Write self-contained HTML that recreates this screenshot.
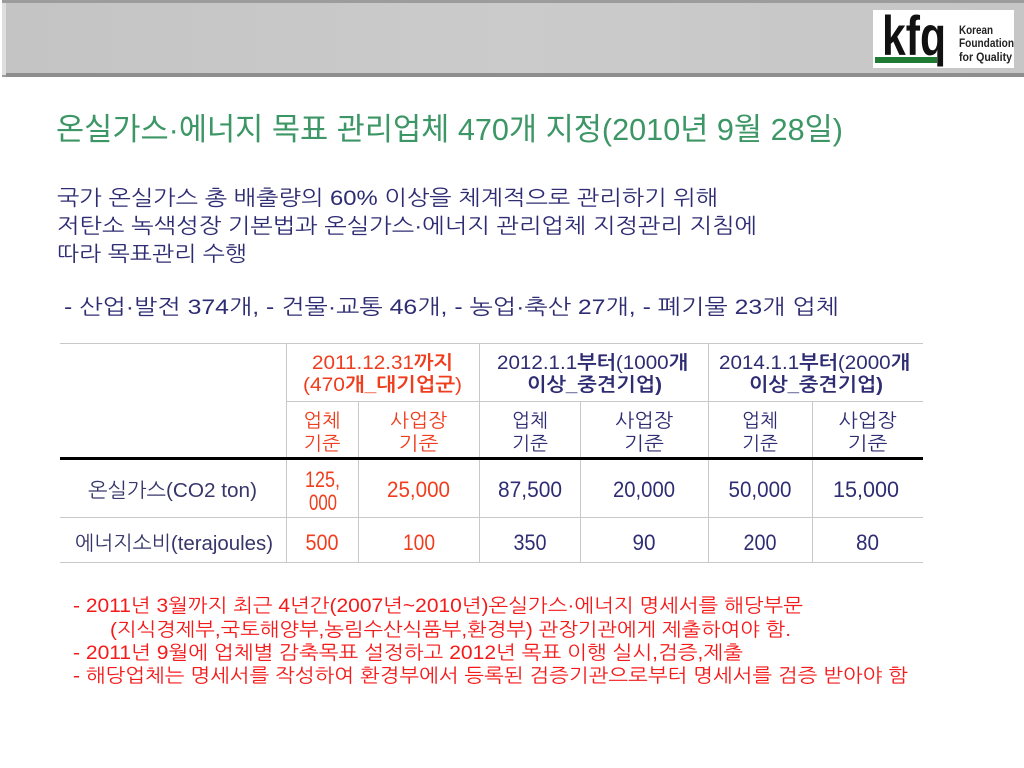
<!DOCTYPE html>
<html>
<head>
<meta charset="utf-8">
<style>
  html,body{margin:0;padding:0;background:#fff;}
  body{width:1024px;height:768px;overflow:hidden;position:relative;}
  svg{position:absolute;left:0;top:0;}
  .b{font-family:"Liberation Sans","NanumGothic","Noto Sans CJK KR",sans-serif;}
</style>
</head>
<body>
<svg width="1024" height="768" viewBox="0 0 1024 768" xmlns="http://www.w3.org/2000/svg">
  <defs>
    <linearGradient id="bar" x1="0" y1="0" x2="1" y2="0">
      <stop offset="0" stop-color="#c4c4c4"/>
      <stop offset="0.5" stop-color="#cbcbcb"/>
      <stop offset="1" stop-color="#c6c6c6"/>
    </linearGradient>
  </defs>
  <!-- header bar -->
  <rect x="2" y="0" width="1022" height="77" fill="#9c9c9c"/>
  <rect x="2" y="3" width="4" height="72" fill="#dedede"/>
  <rect x="6" y="3" width="1018" height="70" fill="url(#bar)"/>
  <rect x="6" y="73" width="1018" height="4" fill="#8e8e8e"/>

  <!-- logo -->
  <rect x="873" y="10" width="141" height="58" fill="#ffffff"/>
  <text x="882" y="55" font-family="Liberation Sans, sans-serif" font-weight="bold" font-size="56" fill="#111" textLength="64" lengthAdjust="spacingAndGlyphs">kfq</text>
  <rect x="875" y="57" width="62" height="6" fill="#1f7a34"/>
  <text x="959" y="34" font-family="Liberation Sans, sans-serif" font-weight="bold" font-size="12" fill="#222" textLength="34" lengthAdjust="spacingAndGlyphs">Korean</text>
  <text x="959" y="47" font-family="Liberation Sans, sans-serif" font-weight="bold" font-size="12" fill="#222" textLength="55" lengthAdjust="spacingAndGlyphs">Foundation</text>
  <text x="959" y="61" font-family="Liberation Sans, sans-serif" font-weight="bold" font-size="12" fill="#222" textLength="53" lengthAdjust="spacingAndGlyphs">for Quality</text>

  <!-- title -->
  <text x="56" y="140" font-family="Liberation Sans, Noto Sans CJK KR, sans-serif" font-size="31" fill="#3c9665" textLength="787" lengthAdjust="spacingAndGlyphs">온실가스·에너지 목표 관리업체 470개 지정(2010년 9월 28일)</text>

  <!-- body text -->
  <g class="b" font-size="21" fill="#2e2c72">
    <text x="57" y="205" textLength="661" lengthAdjust="spacingAndGlyphs">국가 온실가스 총 배출량의 60% 이상을 체계적으로 관리하기 위해</text>
    <text x="57" y="233" textLength="700" lengthAdjust="spacingAndGlyphs">저탄소 녹색성장 기본법과 온실가스·에너지 관리업체 지정관리 지침에</text>
    <text x="57" y="261" textLength="190" lengthAdjust="spacingAndGlyphs">따라 목표관리 수행</text>
    <text x="64" y="314" textLength="775" lengthAdjust="spacingAndGlyphs">- 산업·발전 374개, - 건물·교통 46개, - 농업·축산 27개, - 폐기물 23개 업체</text>
  </g>

  <!-- table lines -->
  <g stroke="#c8c8c8" stroke-width="1">
    <line x1="60" y1="343.5" x2="923" y2="343.5"/>
    <line x1="286" y1="401.5" x2="923" y2="401.5"/>
    <line x1="60" y1="517.5" x2="923" y2="517.5"/>
    <line x1="60" y1="562.5" x2="923" y2="562.5"/>
    <line x1="286.5" y1="343" x2="286.5" y2="562"/>
    <line x1="479.5" y1="343" x2="479.5" y2="562"/>
    <line x1="708.5" y1="343" x2="708.5" y2="562"/>
    <line x1="358.5" y1="401" x2="358.5" y2="562"/>
    <line x1="580.5" y1="401" x2="580.5" y2="562"/>
    <line x1="812.5" y1="401" x2="812.5" y2="562"/>
  </g>
  <rect x="60" y="457" width="863" height="3" fill="#000"/>

  <!-- table header row 1 -->
  <g class="b" font-size="19" text-anchor="middle">
    <text x="382.5" y="369" fill="#ef3d1d" textLength="141" lengthAdjust="spacingAndGlyphs">2011.12.31<tspan font-weight="bold">까지</tspan></text>
    <text x="382.5" y="391" fill="#ef3d1d" textLength="159" lengthAdjust="spacingAndGlyphs">(470<tspan font-weight="bold">개_대기업군</tspan>)</text>
    <text x="592.5" y="369" fill="#2e2c72" textLength="191" lengthAdjust="spacingAndGlyphs">2012.1.1<tspan font-weight="bold">부터</tspan>(1000<tspan font-weight="bold">개</tspan></text>
    <text x="594.5" y="391" fill="#2e2c72" font-weight="bold" textLength="135" lengthAdjust="spacingAndGlyphs">이상_중견기업)</text>
    <text x="814.5" y="369" fill="#2e2c72" textLength="191" lengthAdjust="spacingAndGlyphs">2014.1.1<tspan font-weight="bold">부터</tspan>(2000<tspan font-weight="bold">개</tspan></text>
    <text x="816" y="391" fill="#2e2c72" font-weight="bold" textLength="134" lengthAdjust="spacingAndGlyphs">이상_중견기업)</text>
  </g>

  <!-- table header row 2 -->
  <g class="b" font-size="19" text-anchor="middle">
    <text x="322" y="427" fill="#ef3d1d" textLength="37" lengthAdjust="spacingAndGlyphs">업체</text>
    <text x="322" y="450" fill="#ef3d1d" textLength="37" lengthAdjust="spacingAndGlyphs">기준</text>
    <text x="418.5" y="427" fill="#ef3d1d" textLength="57" lengthAdjust="spacingAndGlyphs">사업장</text>
    <text x="418.5" y="450" fill="#ef3d1d" textLength="40" lengthAdjust="spacingAndGlyphs">기준</text>
    <text x="530" y="427" fill="#2e2c72" textLength="36" lengthAdjust="spacingAndGlyphs">업체</text>
    <text x="530" y="450" fill="#2e2c72" textLength="36" lengthAdjust="spacingAndGlyphs">기준</text>
    <text x="644" y="427" fill="#2e2c72" textLength="58" lengthAdjust="spacingAndGlyphs">사업장</text>
    <text x="644" y="450" fill="#2e2c72" textLength="40" lengthAdjust="spacingAndGlyphs">기준</text>
    <text x="760" y="427" fill="#2e2c72" textLength="36" lengthAdjust="spacingAndGlyphs">업체</text>
    <text x="760" y="450" fill="#2e2c72" textLength="36" lengthAdjust="spacingAndGlyphs">기준</text>
    <text x="867.5" y="427" fill="#2e2c72" textLength="58" lengthAdjust="spacingAndGlyphs">사업장</text>
    <text x="867.5" y="450" fill="#2e2c72" textLength="40" lengthAdjust="spacingAndGlyphs">기준</text>
  </g>

  <!-- data rows -->
  <g class="b" text-anchor="middle">
    <text x="172.5" y="497" font-size="20" fill="#36366a" textLength="169" lengthAdjust="spacingAndGlyphs">온실가스(CO2 ton)</text>
    <text x="174" y="550" font-size="20" fill="#36366a" textLength="198" lengthAdjust="spacingAndGlyphs">에너지소비(terajoules)</text>

    <g font-size="22">
      <text x="322.5" y="487" fill="#ef3d1d" textLength="35" lengthAdjust="spacingAndGlyphs">125,</text>
      <text x="323" y="510" fill="#ef3d1d" textLength="28" lengthAdjust="spacingAndGlyphs">000</text>
      <text x="418.5" y="497" fill="#ef3d1d" textLength="63" lengthAdjust="spacingAndGlyphs">25,000</text>
      <text x="530" y="497" fill="#2e2c72" textLength="64" lengthAdjust="spacingAndGlyphs">87,500</text>
      <text x="644" y="497" fill="#2e2c72" textLength="62" lengthAdjust="spacingAndGlyphs">20,000</text>
      <text x="760" y="497" fill="#2e2c72" textLength="63" lengthAdjust="spacingAndGlyphs">50,000</text>
      <text x="866" y="497" fill="#2e2c72" textLength="66" lengthAdjust="spacingAndGlyphs">15,000</text>

      <text x="322" y="550" fill="#ef3d1d" textLength="33" lengthAdjust="spacingAndGlyphs">500</text>
      <text x="419" y="550" fill="#ef3d1d" textLength="32" lengthAdjust="spacingAndGlyphs">100</text>
      <text x="530" y="550" fill="#2e2c72" textLength="33" lengthAdjust="spacingAndGlyphs">350</text>
      <text x="644" y="550" fill="#2e2c72" textLength="23" lengthAdjust="spacingAndGlyphs">90</text>
      <text x="760" y="550" fill="#2e2c72" textLength="33" lengthAdjust="spacingAndGlyphs">200</text>
      <text x="867.5" y="550" fill="#2e2c72" textLength="23" lengthAdjust="spacingAndGlyphs">80</text>
    </g>
  </g>

  <!-- bottom red notes -->
  <g class="b" font-size="19" fill="#f51a1a">
    <text x="73" y="612" textLength="730" lengthAdjust="spacingAndGlyphs">- 2011년 3월까지 최근 4년간(2007년~2010년)온실가스·에너지 명세서를 해당부문</text>
    <text x="110" y="636" textLength="681" lengthAdjust="spacingAndGlyphs">(지식경제부,국토해양부,농림수산식품부,환경부) 관장기관에게 제출하여야 함.</text>
    <text x="73" y="659" textLength="670" lengthAdjust="spacingAndGlyphs">- 2011년 9월에 업체별 감축목표 설정하고 2012년 목표 이행 실시,검증,제출</text>
    <text x="73" y="682" textLength="835" lengthAdjust="spacingAndGlyphs">- 해당업체는 명세서를 작성하여 환경부에서 등록된 검증기관으로부터 명세서를 검증 받아야 함</text>
  </g>
</svg>
</body>
</html>
